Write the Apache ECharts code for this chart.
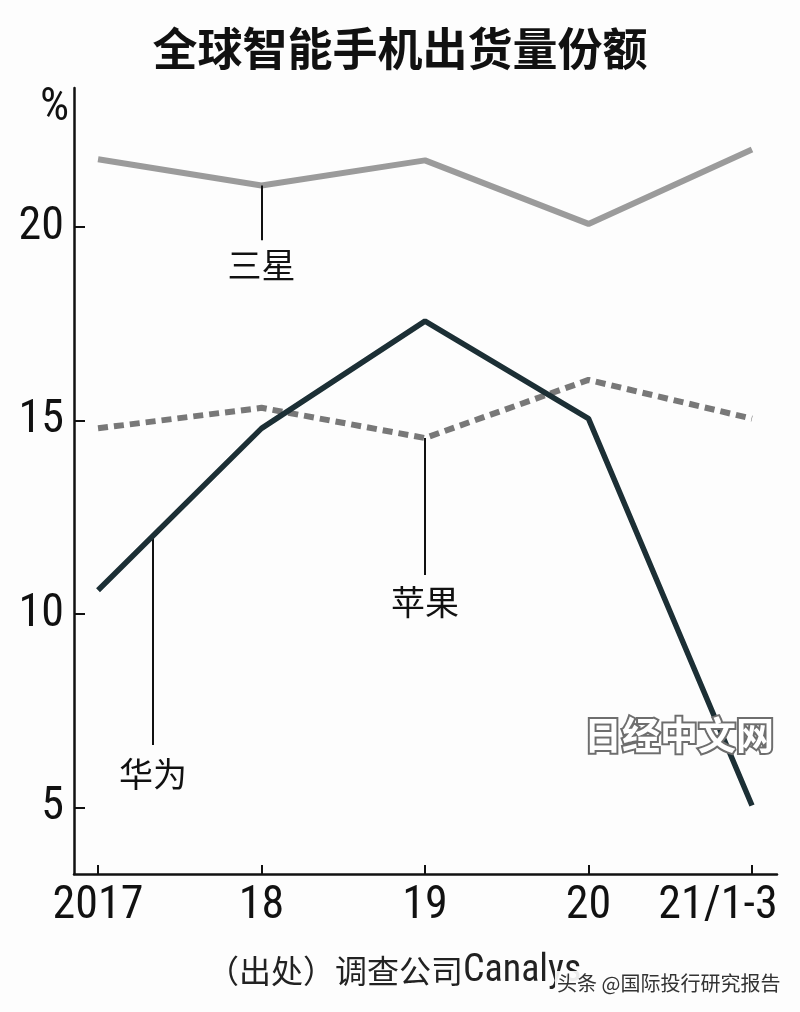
<!DOCTYPE html>
<html><head><meta charset="utf-8">
<script src="https://cdn.jsdelivr.net/npm/echarts@6/dist/echarts.min.js"></script>
<style>html,body{margin:0;padding:0;background:#fdfdfd}#c{width:800px;height:1012px}</style>
</head><body><div id="c"></div>
<script>
const categories = ['2017', '18', '19', '20', '21/1-3'];
const samsung = [21.75, 21.07, 21.72, 20.08, 22.0];
const apple = [14.8, 15.33, 14.55, 16.05, 15.05];
const huawei = [10.62, 14.8, 17.57, 15.05, 5.06];
const yTicks = [5, 10, 15, 20];
const labelNames = { samsung: '三星', apple: '苹果', huawei: '华为' };

const numFont = "'Roboto Condensed', 'Noto Sans', sans-serif";
const cjkFont = "'Noto Sans CJK SC', sans-serif";

const toPairs = arr => arr.map((v, i) => [i, v]);
const hwAt = x => { const i = Math.floor(x); return huawei[i] + (x - i) * (huawei[i + 1] - huawei[i]); };
const hwX = 0.336;

function leader(x, y1, y2, name, dist) {
  return [{ coord: [x, y1] }, { coord: [x, y2], label: { show: true, position: 'end', formatter: name, distance: dist } }];
}
const markStyle = {
  symbol: ['none', 'none'], silent: true, animation: false,
  lineStyle: { color: '#111', width: 2, type: 'solid' },
  label: { color: '#111', fontSize: 34, fontFamily: cjkFont },
  emphasis: { disabled: true }
};

const chart = echarts.init(document.getElementById('c'));
chart.setOption({
  animation: false,
  backgroundColor: '#fdfdfd',
  title: [
    { text: '全球智能手机出货量份额', left: 'center', top: 21, textStyle: { fontSize: 45, fontWeight: 'bold', color: '#111', fontFamily: cjkFont } },
    { text: '%', left: 35, top: 80, textStyle: { fontSize: 46, fontWeight: 'normal', color: '#111', fontFamily: numFont } }
  ],
  grid: { left: 74, right: 23, top: 88, bottom: 138 },
  xAxis: {
    type: 'value', min: -0.147, max: 4.153,
    axisLine: { onZero: false, lineStyle: { color: '#111', width: 2.5 } },
    axisTick: { show: true, inside: true, length: 9, lineStyle: { color: '#111', width: 2 }, customValues: [0, 1, 2, 3, 4] },
    splitLine: { show: false },
    axisLabel: {
      customValues: [0, 1, 2, 3, 4], margin: 9,
      fontSize: 46, color: '#111', fontFamily: numFont,
      formatter: v => { const i = Math.round(v); return i === 4 ? '{r|' + categories[i] + '}' : categories[i]; },
      rich: { r: { fontSize: 46, color: '#111', fontFamily: numFont, padding: [0, 68, 0, 0] } }
    }
  },
  yAxis: {
    type: 'value', min: 3.29, max: 23.59,
    axisLine: { show: true, onZero: false, lineStyle: { color: '#111', width: 2.5 } },
    axisTick: { show: true, inside: true, length: 11, lineStyle: { color: '#111', width: 2 }, customValues: yTicks },
    splitLine: { show: false },
    axisLabel: { customValues: yTicks, margin: 10, fontSize: 46, color: '#111', fontFamily: numFont }
  },
  series: [
    {
      name: '三星', type: 'line', data: toPairs(samsung), symbol: 'none', z: 3,
      lineStyle: { color: '#9b9b9b', width: 6 },
      markLine: Object.assign({ data: [leader(1, samsung[1], 19.66, labelNames.samsung, 8)] }, markStyle)
    },
    {
      name: '苹果', type: 'line', data: toPairs(apple), symbol: 'none', z: 4,
      lineStyle: { color: '#787878', width: 6, type: [10, 6] },
      markLine: Object.assign({ data: [leader(2, apple[2], 11.01, labelNames.apple, 10)] }, markStyle)
    },
    {
      name: '华为', type: 'line', data: toPairs(huawei), symbol: 'none', z: 5,
      lineStyle: { color: '#1c2f35', width: 5.5 },
      markLine: Object.assign({ data: [leader(hwX, hwAt(hwX), 6.62, labelNames.huawei, 12)] }, markStyle)
    }
  ],
  graphic: [
    { type: 'text', left: 582, top: 714, z: 10, style: { text: '日经中文网', fontSize: 38, fontWeight: 'bold', fontFamily: cjkFont, fill: '#ffffff', stroke: '#6e6e6e', lineWidth: 4 } },
    { type: 'text', left: 207, top: 952, z: 10, style: {
      text: '{c|（出处）调查公司}{l|Canalys}',
      rich: {
        c: { fontSize: 32, fontFamily: cjkFont, fill: '#222', color: '#222' },
        l: { fontSize: 38, fontFamily: numFont, fill: '#222', color: '#222' }
      } } },
    { type: 'text', left: 555, top: 971, z: 11, style: { text: '头条 @国际投行研究报告', fontSize: 20, fontFamily: cjkFont, fill: '#333', backgroundColor: 'rgba(253,253,253,0.92)', padding: [2, 2] } }
  ]
});
</script></body></html>
